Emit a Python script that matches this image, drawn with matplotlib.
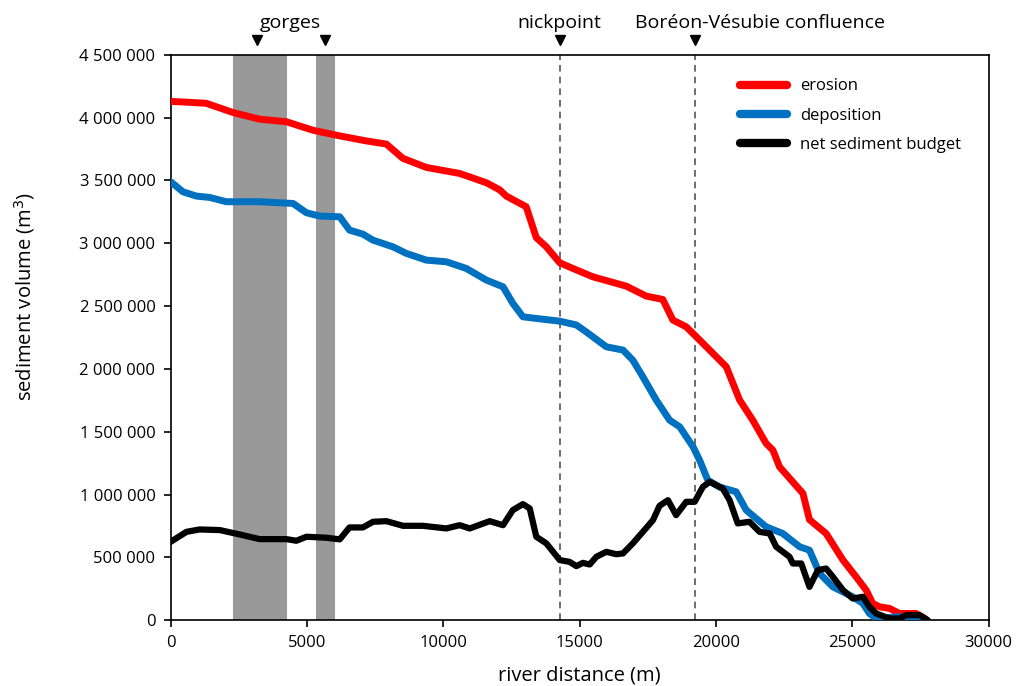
import matplotlib.pyplot as plt
from matplotlib.ticker import FuncFormatter, MultipleLocator

plt.rcParams['font.family'] = ['Open Sans', 'DejaVu Sans']

# erosion curve (m, m3)
erosion_x = [0, 1300, 2300, 3260, 4240, 5220, 6200, 7180, 7910, 8520, 9380, 10600,
             11580, 12070, 12310, 13040, 13410, 13780, 14270, 14750, 15490, 16710,
             17440, 18050, 18420, 18910, 19280, 19770, 20380, 20870, 21350, 21840,
             22090, 22330, 22820, 23190, 23430, 24040, 24660, 25140, 25510, 25750,
             26000, 26370, 26730, 27340, 27650]
erosion_y = [4130000, 4115000, 4040000, 3988000, 3968000, 3900000, 3855000, 3815000,
             3790000, 3676000, 3604000, 3556000, 3482000, 3425000, 3376000, 3291000,
             3045000, 2972000, 2845000, 2800000, 2733000, 2659000, 2580000, 2553000,
             2389000, 2335000, 2256000, 2150000, 2017000, 1752000, 1592000, 1407000,
             1353000, 1221000, 1100000, 1009000, 800000, 690000, 478000, 345000,
             239000, 133000, 106000, 93000, 53000, 53000, 15000]

# deposition curve
deposition_x = [0, 450, 940, 1430, 2040, 3260, 4490, 4980, 5460, 6200, 6560, 7050,
                7420, 8150, 8640, 9380, 10110, 10840, 11580, 12190, 12550, 12920,
                13290, 14270, 14880, 15240, 15980, 16590, 16950, 17320, 17810, 18300,
                18670, 19160, 19400, 19700, 20130, 20740, 21110, 21840, 22450, 23070,
                23430, 23800, 24290, 25020, 25390, 25630, 25880, 26730, 27470]
deposition_y = [3490000, 3410000, 3376000, 3365000, 3331000, 3331000, 3317000, 3243000,
                3217000, 3211000, 3105000, 3073000, 3025000, 2972000, 2920000, 2866000,
                2853000, 2800000, 2707000, 2654000, 2522000, 2415000, 2405000, 2380000,
                2350000, 2295000, 2176000, 2150000, 2070000, 1937000, 1752000, 1592000,
                1539000, 1380000, 1274000, 1115000, 1060000, 1022000, 876000, 743000,
                690000, 584000, 557000, 372000, 265000, 186000, 133000, 53000, 13000,
                27000, 0]

# net sediment budget
net_x = [0, 580, 1060, 1800, 2530, 3260, 4240, 4610, 4980, 5710, 6200, 6560, 7050,
         7420, 7910, 8520, 9250, 10110, 10600, 10970, 11700, 12190, 12550, 12920,
         13170, 13410, 13780, 14270, 14630, 14880, 15120, 15370, 15610, 15980, 16340,
         16590, 16950, 17320, 17690, 17930, 18240, 18540, 18910, 19220, 19520, 19770,
         20250, 20500, 20800, 21230, 21600, 21970, 22210, 22700, 22820, 23130, 23430,
         23740, 24040, 24290, 24660, 25020, 25390, 25630, 25880, 26370, 26730, 26980,
         27470, 27770]
net_y = [624000, 703000, 722000, 717000, 682000, 645000, 645000, 632000, 664000,
         656000, 643000, 738000, 738000, 783000, 788000, 751000, 751000, 730000,
         756000, 730000, 788000, 756000, 876000, 924000, 889000, 664000, 611000,
         478000, 464000, 430000, 456000, 443000, 504000, 544000, 525000, 531000,
         611000, 703000, 796000, 910000, 955000, 836000, 942000, 942000, 1061000,
         1101000, 1048000, 955000, 770000, 783000, 703000, 690000, 584000, 504000,
         451000, 451000, 265000, 398000, 411000, 345000, 239000, 172000, 186000,
         106000, 53000, 13000, 13000, 40000, 40000, 0]

# gorge reaches, marked points
gorge_spans = [(2300, 4250), (5320, 6010)]
gorge_arrows = [3150, 5650]
nickpoint = 14270
confluence = 19220

fig = plt.figure(figsize=(10.16, 6.86), dpi=100)
ax = fig.add_axes([0.168, 0.096, 0.805, 0.824])

# shaded gorges
for x0, x1 in gorge_spans:
    ax.axvspan(x0, x1, color='#999999', lw=0, zorder=1)

# dashed markers
for xv in [nickpoint, confluence]:
    ax.axvline(xv, color='#555555', lw=1.2, ls=(0, (4, 3)), zorder=1)

ax.plot(erosion_x, erosion_y, color='#ff0000', lw=5, solid_capstyle='round', label='erosion', zorder=3)
ax.plot(deposition_x, deposition_y, color='#0070c0', lw=5, solid_capstyle='round', label='deposition', zorder=3)
ax.plot(net_x, net_y, color='black', lw=4.5, solid_capstyle='round', label='net sediment budget', zorder=4)

ax.set_xlim(0, 30000)
ax.set_ylim(0, 4500000)
ax.xaxis.set_major_locator(MultipleLocator(5000))
ax.yaxis.set_major_locator(MultipleLocator(500000))
ax.yaxis.set_major_formatter(FuncFormatter(lambda v, p: f"{v:,.0f}".replace(",", " ")))
ax.tick_params(direction='out', length=5, width=1.2, labelsize=12, pad=6)
for s in ax.spines.values():
    s.set_linewidth(1.2)

ax.set_xlabel('river distance (m)', fontsize=14.5, labelpad=10)
ax.set_ylabel('sediment volume (m$^3$)', fontsize=14.5)
ax.yaxis.set_label_coords(-0.163, 0.572)

# annotations above the axes
trans = ax.get_xaxis_transform()
ax.plot(gorge_arrows, [1.027, 1.027], 'v', color='black', ms=7, transform=trans, clip_on=False)
ax.plot([nickpoint, confluence], [1.027, 1.027], 'v', color='black', ms=7, transform=trans, clip_on=False)
ax.text(sum(gorge_arrows) / 2, 1.04, 'gorges', transform=trans, ha='center', va='bottom', fontsize=14)
ax.text(nickpoint, 1.04, 'nickpoint', transform=trans, ha='center', va='bottom', fontsize=14)
ax.text(confluence + 2400, 1.04, 'Boréon-Vésubie confluence', transform=trans, ha='center', va='bottom', fontsize=14)

leg = ax.legend(loc='upper right', bbox_to_anchor=(0.985, 0.985), frameon=False, fontsize=12,
                handlelength=2.8, labelspacing=0.8)
for line in leg.get_lines():
    line.set_linewidth(6)

fig.savefig('out.png', dpi=100)
